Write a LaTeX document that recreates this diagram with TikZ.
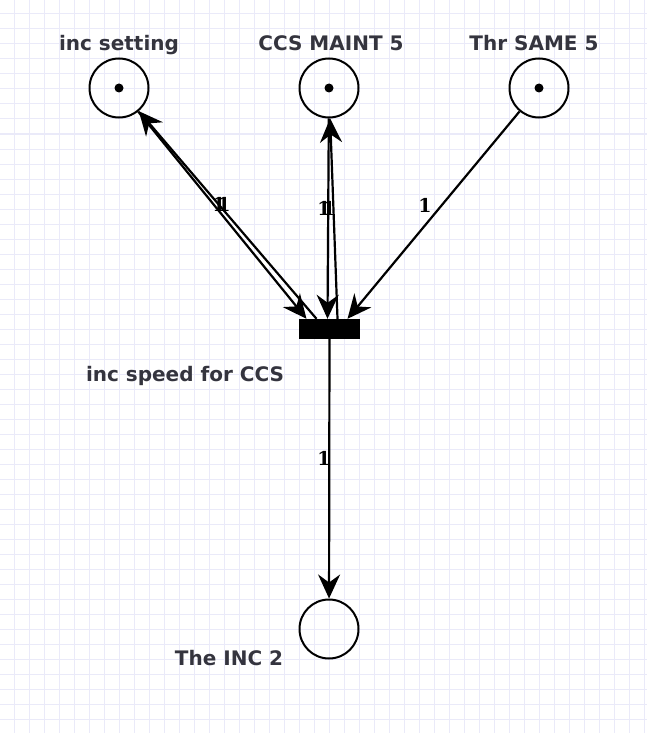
\documentclass[tikz,border=0pt]{standalone}
\usepackage{fontspec}
\setmainfont{DejaVu Sans}
\newfontfamily\wtfont{DejaVu Serif}
\usetikzlibrary{arrows.meta}
\definecolor{gridc}{RGB}{234,234,249}
\definecolor{txtc}{RGB}{52,52,62}

\begin{document}
\begin{tikzpicture}[x=1pt,y=-1pt,
  place/.style={draw,circle,line width=2pt,minimum size=59pt,inner sep=0},
  trans/.style={fill=black,minimum width=61pt,minimum height=20pt,inner sep=0},
  arcline/.style={line width=2.2pt,-{Stealth[length=24pt,width=22pt,inset=8pt]}},
  txt/.style={anchor=base,inner sep=0,text=txtc,font=\fontsize{20}{24}\selectfont\bfseries},
  wt/.style={inner sep=0,font=\fontsize{19}{22}\selectfont\wtfont\bfseries}]
\useasboundingbox (0,0) rectangle (647,733);
\fill[white] (0,0) rectangle (647,733);
\foreach \x in {14,29,...,644} \draw[gridc,line width=1pt] (\x,0) -- (\x,733);
\foreach \y in {14,29,...,730} \draw[gridc,line width=1pt] (0,\y) -- (647,\y);
\node[place] (incset) at (119,88) {};
\node[place] (ccs) at (329,88) {};
\node[place] (thr) at (539,88) {};
\node[place] (inc2) at (329,629) {};
\node[trans] (tr) at (329.5,329) {};
\fill (incset) circle (4.5);
\fill (ccs) circle (4.5);
\fill (thr) circle (4.5);
\node[txt] (incsetlbl) at (119,51) {inc setting};
\node[txt] (ccslbl) at (331,51) {CCS MAINT 5};
\node[txt] (thrlbl) at (534,51) {Thr SAME 5};
\node[txt] (trlbl) at (185,381) {inc speed for CCS};
\node[txt] (inc2lbl) at (229,665) {The INC 2};
\draw[arcline] (incset) -- ([xshift=-23pt]tr.north);
\draw[arcline] ([xshift=-13pt]tr.north) -- (incset);
\draw[arcline] (ccs) -- ([xshift=-2pt]tr.north);
\draw[arcline] ([xshift=8pt]tr.north) -- (ccs);
\draw[arcline] (thr) -- ([xshift=18pt]tr.north);
\draw[arcline] (tr) -- (inc2);
\node[wt] (w1) at (219,204) {1};
\node[wt] (w2) at (224,204) {1};
\node[wt] (w3) at (324,208) {1};
\node[wt] (w4) at (329,208) {1};
\node[wt] (w5) at (425,205) {1};
\node[wt] (w6) at (324,458) {1};
\end{tikzpicture}
\end{document}
